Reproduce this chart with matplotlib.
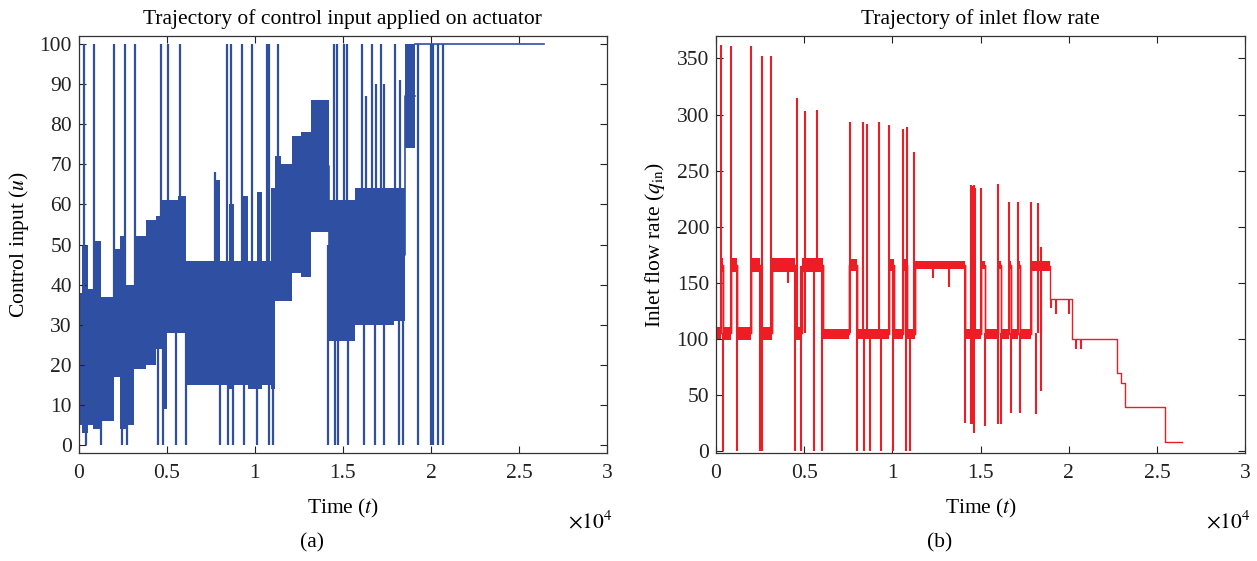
import numpy as np
import matplotlib.pyplot as plt

plt.rcParams['font.family'] = ['Liberation Serif', 'DejaVu Serif']
plt.rcParams['mathtext.fontset'] = 'stix'

# ---- (a) control input: noisy band given as piecewise envelope ----
u_edges = [0, 200, 500, 800, 1250, 2000, 2350, 2650, 3150, 3800, 4400, 4700, 5000, 5650, 6100,
           7700, 8000, 8500, 8800, 9300, 9600, 10100, 10400, 10900, 11150, 11500, 12100, 12600,
           13200, 14200, 15700, 17900, 18500, 19100]
u_lo = [5, 3, 5, 4, 6, 17, 4, 5, 19, 20, 24, 9, 28, 28, 15, 15, 15, 14, 15, 15, 14, 14, 15, 14,
        36, 36, 43, 42, 53, 26, 30, 31, 74]
u_hi = [38, 50, 39, 51, 37, 49, 52, 40, 52, 56, 57, 61, 61, 62, 46, 66, 46, 60, 46, 62, 46, 63,
        46, 64, 72, 70, 77, 78, 86, 61, 64, 64, 100]
u_sat_t = [19100, 26400]
u_sat = [100, 100]

# spikes (time, low end, high end)
u_spk_t = [265, 833, 1970, 2594, 3163, 4640, 5055, 5720, 8390, 8615, 9260, 9810, 10660, 10810,
           11300, 14480, 14640, 15050, 15260, 16060, 16660, 17150, 17950,
           386, 1238, 2470, 2743, 4487, 4760, 5504, 6066, 8007, 8461, 8745, 9368, 10110, 10780,
           11000, 14140, 14540, 14710, 15270, 16210, 16800, 17320, 18180, 18400,
           19280, 19990, 20100, 20420, 20700,
           7720, 16340, 16890, 17360, 18230]
u_spk_lo = [20, 20, 20, 20, 30, 30, 30, 40, 30, 30, 30, 30, 30, 30,
            50, 40, 40, 40, 40, 40, 40, 40, 40,
            0, 0, 0, 0, 0, 0, 0, 0, 0, 0, 0, 0, 0, 0,
            0, 0, 0, 0, 0, 0, 0, 0, 0, 0,
            0, 0, 0, 0, 0,
            30, 40, 40, 40, 40]
u_spk_hi = [100, 100, 100, 100, 100, 100, 100, 100, 100, 100, 100, 100, 100, 100,
            100, 100, 100, 100, 100, 100, 100, 100, 100,
            30, 30, 30, 30, 30, 30, 40, 40, 30, 30, 30, 30, 30, 30,
            30, 50, 50, 50, 50, 50, 50, 50, 50, 50,
            100, 100, 100, 100, 100,
            68, 87, 90, 90, 91]

# ---- (b) inlet flow rate ----
q_edges = [0, 300, 420, 830, 1210, 1966, 2495, 3156, 4479, 4900, 6090, 7560, 7975, 9810, 10110,
           10620, 10810, 11285, 14120, 15030, 15260, 15980, 16160, 16590, 16740, 17110, 17240,
           17850, 18940]
q_lo = [99, 160, 99, 160, 99, 160, 99, 160, 99, 160, 100, 161, 100, 161, 100, 161, 100, 162,
        100, 162, 100, 162, 100, 162, 100, 162, 100, 161]
q_hi = [111, 172, 111, 172, 111, 172, 111, 172, 111, 172, 109, 171, 109, 171, 109, 171, 109, 170,
        109, 170, 109, 170, 109, 170, 109, 170, 109, 170]
q_step_t = [18940, 20160, 22720, 22950, 23190, 25460, 26400]
q_step = [136, 100, 70, 61, 39.5, 8.5]

q_spk_t = [0, 283, 850, 1966, 2630, 3140, 4610, 5050, 5710, 7600, 8350, 8580, 9240, 9810,
           10620, 10810, 11240, 14460, 14540, 14620, 14690, 15030, 15980, 16590, 17110, 17850,
           18240, 18430,
           377, 1210, 2494, 2630, 4480, 4800, 5560, 6030, 7970, 8410, 8730, 9330, 10055, 10754,
           11000, 14119, 14459, 14535, 14648, 15253, 15971, 16160, 16708, 17237, 18126, 18409,
           4100, 12323, 13212, 19000, 19250, 20010, 20390, 20670]
q_spk_lo = [100, 105, 105, 105, 105, 105, 105, 105, 165, 105, 105, 105, 105, 105,
            105, 105, 105, 105, 105, 105, 105, 105, 105, 105, 105, 105,
            105, 105,
            0, 0, 0, 0, 0, 0, 0, 0, 0, 0, 0, 0, 0, 0,
            0, 25, 24, 24, 16, 23, 24, 24, 34, 34, 33, 54,
            150, 154, 146, 128, 122, 122, 91, 91]
q_spk_hi = [155, 362, 361, 361, 352, 352, 315, 303, 304, 293, 293, 292, 293, 291,
            287, 289, 267, 237, 236, 237, 235, 235, 238, 222, 222, 222,
            221, 182,
            105, 165, 165, 165, 165, 165, 165, 165, 165, 105, 105, 105, 165, 165,
            105, 165, 105, 105, 105, 105, 105, 105, 105, 105, 105, 165,
            165, 165, 165, 136, 136, 136, 100, 100]

blue = '#2f4fa2'
red = '#ee1c24'
fs = 15.5


def band(ax, edges, lo, hi, color, lw):
    lo2 = list(lo) + [lo[-1]]
    hi2 = list(hi) + [hi[-1]]
    ax.fill_between(edges, lo2, hi2, step='post', color=color, lw=0)
    mid = [(a + b) / 2 for a, b in zip(lo2, hi2)]
    ax.step(edges, mid, where='post', color=color, lw=lw)


def style(ax, ylim, yticks):
    ax.set_xlim(0, 30000)
    ax.set_ylim(*ylim)
    ax.set_xticks(np.arange(0, 30001, 5000))
    ax.set_xticklabels(['0', '0.5', '1', '1.5', '2', '2.5', '3'])
    ax.set_yticks(yticks)
    ax.tick_params(direction='in', top=True, right=True, length=5, width=0.8,
                   labelsize=fs, colors='#222222')
    ax.tick_params(axis='x', pad=8)
    ax.tick_params(axis='y', pad=5)
    for s in ax.spines.values():
        s.set_linewidth(0.9)
        s.set_color('#333333')
    ax.set_xlabel('Time ($t$)', fontsize=fs, labelpad=10)
    ax.text(1.01, -0.165, r'$\times 10^4$', transform=ax.transAxes, ha='right', va='center',
            fontsize=fs)


fig = plt.figure(figsize=(12.57, 5.61), dpi=100)
ax1 = fig.add_axes([0.0628, 0.1925, 0.420, 0.7433])
ax2 = fig.add_axes([0.5696, 0.1925, 0.421, 0.7433])

# (a)
band(ax1, u_edges, u_lo, u_hi, blue, 1.2)
ax1.plot(u_sat_t, u_sat, color=blue, lw=1.2)
ax1.vlines(u_spk_t, u_spk_lo, u_spk_hi, color=blue, lw=1.6)
style(ax1, (-2, 102), np.arange(0, 101, 10))
ax1.set_ylabel('Control input ($u$)', fontsize=fs, labelpad=6)
ax1.set_title('Trajectory of control input applied on actuator', fontsize=fs, pad=9)

# (b)
band(ax2, q_edges, q_lo, q_hi, red, 1.0)
t_all = q_edges[:-1] + q_step_t
y_all = [(a + b) / 2 for a, b in zip(q_lo, q_hi)] + q_step + [q_step[-1]]
ax2.step(t_all, y_all, where='post', color=red, lw=1.0)
ax2.vlines(q_spk_t, q_spk_lo, q_spk_hi, color=red, lw=1.5)
style(ax2, (-1.5, 370), np.arange(0, 351, 50))
ax2.set_ylabel(r'Inlet flow rate ($q_{\mathrm{in}}$)', fontsize=fs, labelpad=7)
ax2.set_title('Trajectory of inlet flow rate', fontsize=fs, pad=9)

fig.text(312 / 1257, 1 - 543 / 561, '(a)', ha='center', va='center', fontsize=fs)
fig.text(940 / 1257, 1 - 543 / 561, '(b)', ha='center', va='center', fontsize=fs)

fig.savefig('out.png', dpi=100)
